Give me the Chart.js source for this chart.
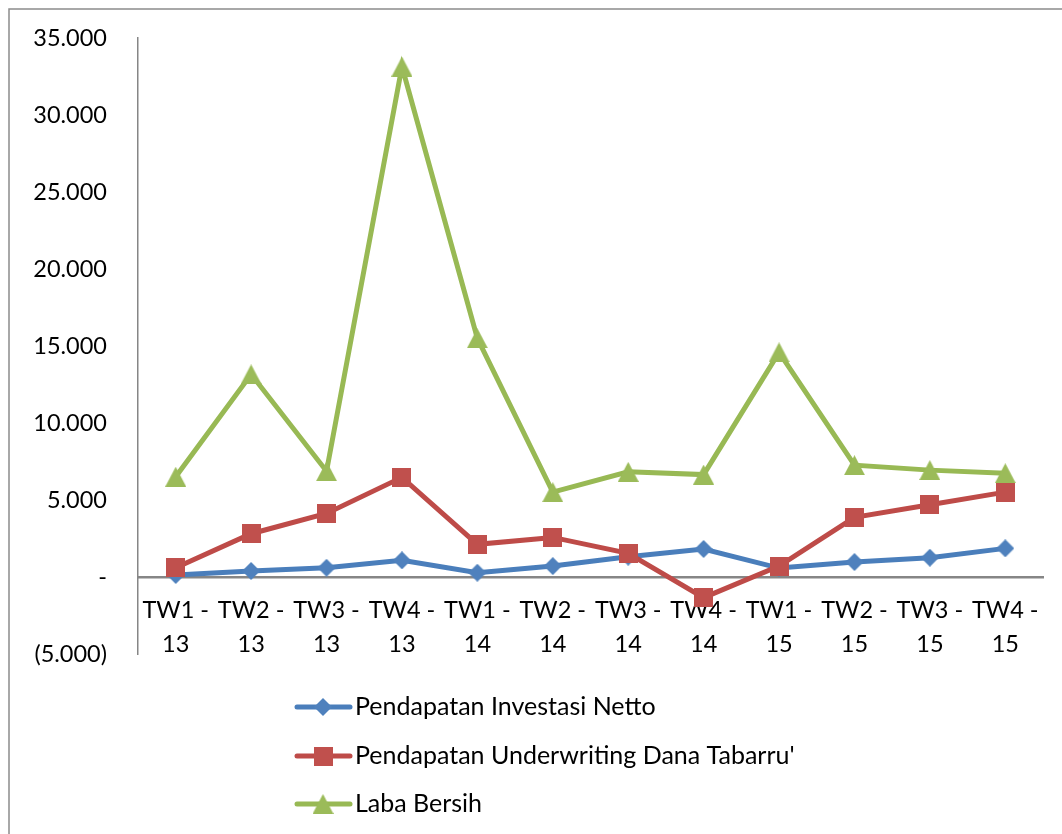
<!DOCTYPE html>
<html>
<head>
<meta charset="utf-8">
<style>
  html, body { margin: 0; padding: 0; background: #ffffff; }
  #wrap { width: 1062px; height: 834px; position: relative; }
</style>
<script src="https://cdn.jsdelivr.net/npm/chart.js@4.4.1/dist/chart.umd.min.js"></script>
</head>
<body>
<div id="wrap"><canvas id="chart" width="1062" height="834"></canvas></div>
<script>
// Quarterly figures (in millions), 2013-2015
const categories = [
  ["TW1 -", "13"], ["TW2 -", "13"], ["TW3 -", "13"], ["TW4 -", "13"],
  ["TW1 -", "14"], ["TW2 -", "14"], ["TW3 -", "14"], ["TW4 -", "14"],
  ["TW1 -", "15"], ["TW2 -", "15"], ["TW3 -", "15"], ["TW4 -", "15"]
];
const investasiNetto = [130, 390, 600, 1080, 280, 710, 1320, 1820, 580, 970, 1250, 1860];
const underwritingTabarru = [600, 2810, 4130, 6470, 2120, 2570, 1540, -1340, 710, 3870, 4690, 5510];
const labaBersih = [6510, 13160, 6870, 33140, 15500, 5510, 6830, 6650, 14590, 7260, 6940, 6740];
const seriesNames = [
  "Pendapatan Investasi Netto",
  "Pendapatan Underwriting Dana Tabarru'",
  "Laba Bersih"
];
const yMin = -5000, yMax = 35000, yStep = 5000;

const FONT = "Lato, 'Noto Sans', sans-serif";
const BLUE = "#4A7EBB", BLUE_M = "#4F81BD";
const RED = "#BE4B48", RED_M = "#C0504D";
const GREEN = "#98B954", GREEN_M = "#9BBB59";

// Marker images, centred on the data point
function makeMarker(kind, w, h, color) {
  const c = document.createElement("canvas");
  c.width = w; c.height = h;
  const g = c.getContext("2d");
  g.fillStyle = color;
  g.beginPath();
  if (kind === "diamond") {
    g.moveTo(w / 2, 0); g.lineTo(w, h / 2); g.lineTo(w / 2, h); g.lineTo(0, h / 2);
  } else if (kind === "square") {
    g.rect(0, 0, w, h);
  } else {
    g.moveTo(w / 2, 0); g.lineTo(w, h); g.lineTo(0, h);
  }
  g.closePath();
  g.fill();
  return c;
}
const markers = [
  makeMarker("diamond", 18, 18, BLUE_M),
  makeMarker("square", 19, 19, RED_M),
  makeMarker("triangle", 21, 20, GREEN_M)
];
const lineColors = [BLUE, RED, GREEN];

function fmtThousands(v) {
  return String(Math.round(v)).replace(/\B(?=(\d{3})+(?!\d))/g, ".");
}

// Outer frame around the chart object
const framePlugin = {
  id: "frame",
  beforeDraw(chart) {
    const ctx = chart.ctx;
    ctx.save();
    ctx.strokeStyle = "#8C8C8C";
    ctx.lineWidth = 1.5;
    ctx.strokeRect(9, 9, 1100, 900);
    ctx.restore();
  }
};

// Vertical legend below the plot
const legendPlugin = {
  id: "stackedLegend",
  afterDraw(chart) {
    const ctx = chart.ctx;
    const rowsY = [707, 756, 804];
    ctx.save();
    seriesNames.forEach((name, i) => {
      const y = rowsY[i];
      ctx.strokeStyle = lineColors[i];
      ctx.lineWidth = 5;
      ctx.lineCap = "round";
      ctx.beginPath();
      ctx.moveTo(297, y);
      ctx.lineTo(350, y);
      ctx.stroke();
      const m = markers[i];
      ctx.drawImage(m, 323 - m.width / 2, y - m.height / 2);
      ctx.fillStyle = "#000000";
      ctx.font = "25px " + FONT;
      ctx.textAlign = "left";
      ctx.textBaseline = "middle";
      ctx.fillText(name, 355, y);
    });
    ctx.restore();
  }
};

const values = [investasiNetto, underwritingTabarru, labaBersih];
const datasets = values.map((data, i) => ({
  label: seriesNames[i],
  data: data,
  borderColor: lineColors[i],
  backgroundColor: lineColors[i],
  borderWidth: 5,
  pointStyle: markers[i],
  pointRadius: 9,
  pointHoverRadius: 9,
  tension: 0,
  order: 3 - i
}));

new Chart(document.getElementById("chart"), {
  type: "line",
  data: { labels: categories, datasets: datasets },
  options: {
    responsive: false,
    animation: false,
    devicePixelRatio: 1,
    layout: { padding: { left: 0, right: 19, top: 38, bottom: 180 } },
    plugins: { legend: { display: false }, tooltip: { enabled: false } },
    scales: {
      x: {
        type: "category",
        offset: true,
        position: { y: 0 },
        grid: { display: false, drawTicks: false },
        border: { display: true, color: "#868686", width: 2.5 },
        ticks: {
          color: "#000000",
          font: { family: FONT, size: 23.5, lineHeight: 1.46 },
          padding: 16,
          maxRotation: 0,
          autoSkip: false
        }
      },
      y: {
        min: yMin,
        max: yMax,
        // tick marks hidden; their length only sets the label gap
        grid: { display: false, drawTicks: true, tickLength: 31 },
        border: { display: true, color: "#868686", width: 1.5 },
        afterFit(scale) { scale.width = 138; },
        ticks: {
          stepSize: yStep,
          color: "#000000",
          padding: 0,
          font: { family: FONT, size: 23.5 },
          callback(v) {
            if (v === 0) return "-";
            if (v < 0) return "(" + fmtThousands(-v) + ")";
            return fmtThousands(v);
          }
        }
      }
    }
  },
  plugins: [framePlugin, legendPlugin]
});
</script>
</body>
</html>
